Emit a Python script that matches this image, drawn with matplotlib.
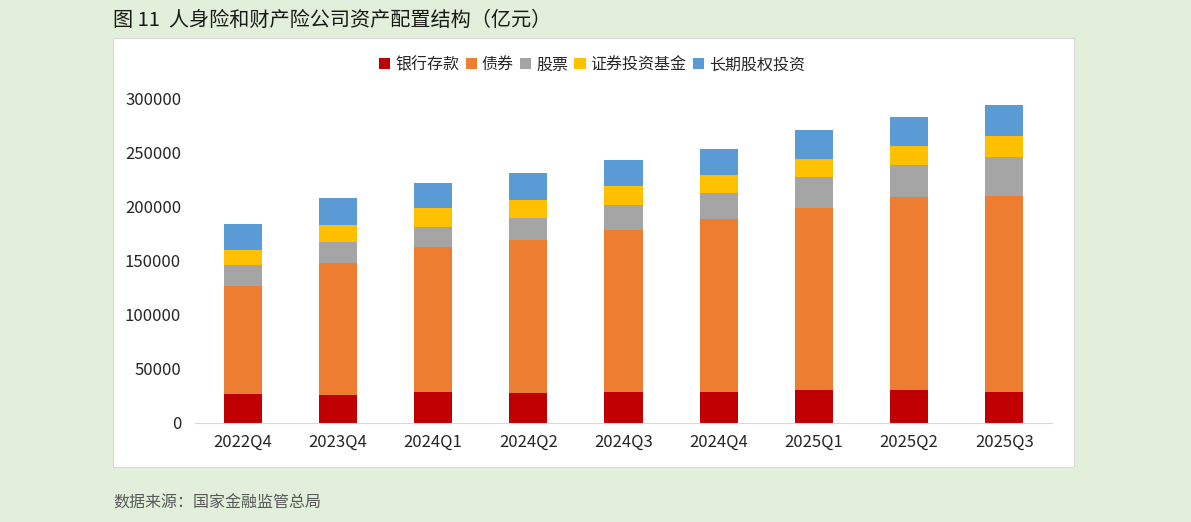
import matplotlib.pyplot as plt
import numpy as np
from matplotlib.patches import Rectangle

plt.rcParams['font.family'] = ['Noto Sans CJK SC', 'DejaVu Sans']

quarters = ['2022Q4', '2023Q4', '2024Q1', '2024Q2', '2024Q3', '2024Q4', '2025Q1', '2025Q2', '2025Q3']
series_names = ['银行存款', '债券', '股票', '证券投资基金', '长期股权投资']
bank_deposit = [26500, 25300, 28700, 27700, 28100, 28700, 30000, 30200, 28400]
bonds = [100000, 122600, 133800, 140900, 149800, 159400, 168900, 178200, 181500]
stocks = [19000, 19400, 18800, 20900, 23100, 24100, 28100, 30200, 35800]
funds = [14000, 15400, 17300, 16600, 17600, 16600, 16600, 17300, 19700]
equity_inv = [24300, 24700, 23100, 24700, 24300, 24600, 27100, 26800, 28400]
colors = ['#C00000', '#ED7D31', '#A5A5A5', '#FFC000', '#5B9BD5']

fig = plt.figure(figsize=(11.91, 5.22), dpi=100)
fig.patch.set_facecolor('#E2EFDA')

# white chart panel behind the axes
fig.patches.append(Rectangle((113 / 1191, 1 - 467 / 522), (1074 - 113) / 1191, (467 - 38) / 522,
                             transform=fig.transFigure, facecolor='white', edgecolor='#D9D9D9',
                             linewidth=0.8, zorder=-1))

ax = fig.add_axes([195 / 1191, 1 - 422.7 / 522, 857 / 1191, 324.4 / 522])
ax.set_facecolor('white')

x = np.arange(len(quarters))
bottom = np.zeros(len(quarters))
for name, vals, c in zip(series_names, [bank_deposit, bonds, stocks, funds, equity_inv], colors):
    ax.bar(x, vals, width=0.4, bottom=bottom, color=c, label=name, zorder=2)
    bottom += np.array(vals)

ax.set_xlim(-0.5, 8.5)
ax.set_ylim(0, 300000)
ax.set_yticks(range(0, 300001, 50000))
ax.set_xticks(x)
ax.set_xticklabels(quarters)
ax.tick_params(axis='both', length=0, labelsize=12, colors='#262626')
ax.tick_params(axis='x', pad=8)
ax.tick_params(axis='y', pad=10)
for s in ['top', 'right', 'left']:
    ax.spines[s].set_visible(False)
ax.spines['bottom'].set_color('#D9D9D9')

fig.legend(loc='center', bbox_to_anchor=(592 / 1191, 1 - 65 / 522), ncol=5, frameon=False,
           fontsize=11.5, handlelength=0.7, handleheight=0.7, handletextpad=0.3, columnspacing=0.4,
           labelcolor='#262626')

fig.text(113 / 1191, 1 - 20 / 522, '图 11  人身险和财产险公司资产配置结构（亿元）', fontsize=14.5,
         va='center', ha='left', color='#1a1a1a')
fig.text(113 / 1191, 1 - 503 / 522, '数据来源：国家金融监管总局', fontsize=11.5,
         va='center', ha='left', color='#595959')

fig.savefig('out.png', dpi=100, facecolor=fig.get_facecolor())
